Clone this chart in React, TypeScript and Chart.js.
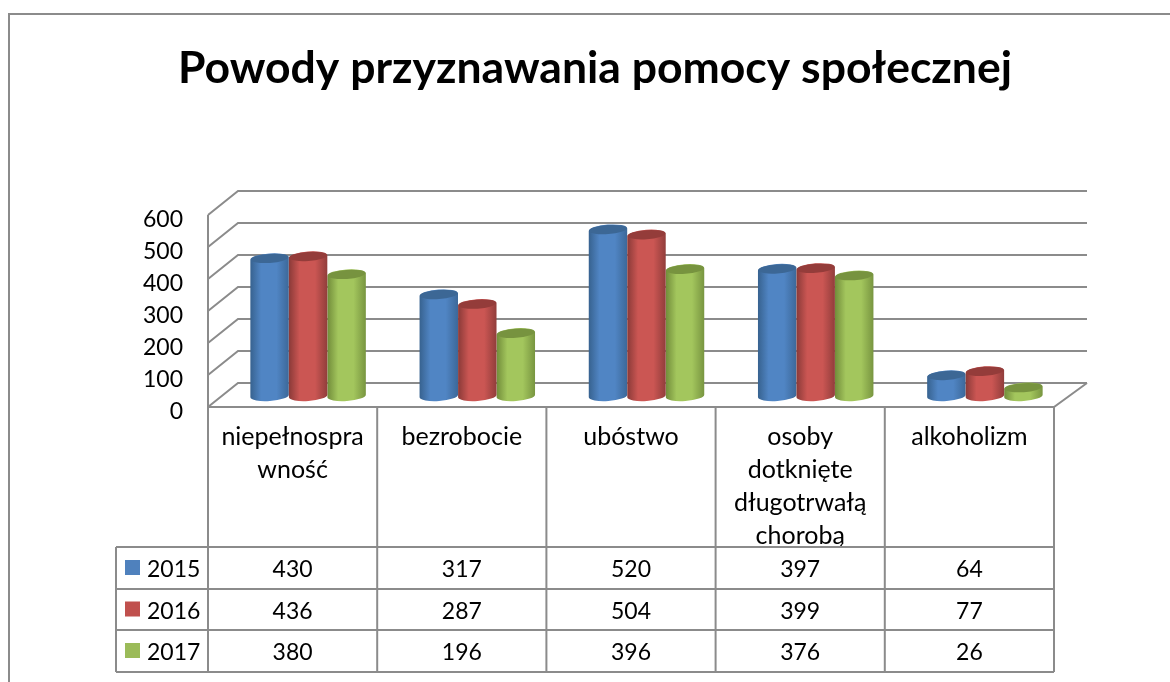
import React, { useEffect, useRef } from "react";
import { Chart, registerables } from "chart.js";

Chart.register(...registerables);

const TITLE = "Powody przyznawania pomocy społecznej";
const CATEGORIES = [
  ["niepełnospra", "wność"],
  ["bezrobocie"],
  ["ubóstwo"],
  ["osoby", "dotknięte", "długotrwałą", "chorobą"],
  ["alkoholizm"],
];
const SERIES_NAMES = ["2015", "2016", "2017"];
const VALUES_2015 = [430, 317, 520, 397, 64];
const VALUES_2016 = [436, 287, 504, 399, 77];
const VALUES_2017 = [380, 196, 396, 376, 26];

const FONT = "Lato, Carlito, Calibri, sans-serif";
const TEXT = "#000000";
const LINE = "#8b8b8b";
const COLORS = ["#4f81bd", "#c0504d", "#9bbb59"];
const SHADES = [
  { edgeL: "#37628f", mid: "#5085c4", edgeR: "#3c6899", top: "#3c6795" },
  { edgeL: "#8a3a38", mid: "#cb5653", edgeR: "#913d3b", top: "#943c3a" },
  { edgeL: "#718c3a", mid: "#a3c65d", edgeR: "#789540", top: "#77933f" },
];
const DRAW_ORDER = [0, 2, 1];

const DEPTH_X = 30;
const DEPTH_X_RIGHT = 33;
const DEPTH_Y = -24;
const BAR_DX = 15.5;
const BAR_DY = -11;
const TILT = -0.07;
const ROW_LINES = [547, 589, 630, 672];
const TABLE_LEFT = 116;

function line(ctx: CanvasRenderingContext2D, pts: number[][]) {
  ctx.beginPath();
  pts.forEach(([x, y], i) => (i ? ctx.lineTo(x, y) : ctx.moveTo(x, y)));
  ctx.stroke();
}

function cylinder(ctx: CanvasRenderingContext2D, bar: any, s: (typeof SHADES)[number]) {
  const rx = bar.width / 2;
  const cx = bar.x + BAR_DX;
  const yTop = bar.y + BAR_DY;
  const yBase = bar.base + BAR_DY;
  const ry = 5;
  const g = ctx.createLinearGradient(cx - rx, 0, cx + rx, 0);
  g.addColorStop(0, s.edgeL);
  g.addColorStop(0.28, s.mid);
  g.addColorStop(0.68, s.mid);
  g.addColorStop(1, s.edgeR);
  ctx.fillStyle = g;
  ctx.beginPath();
  ctx.ellipse(cx, yBase, rx, ry, TILT, 0, Math.PI);
  ctx.ellipse(cx, yTop, rx, ry, TILT, Math.PI, Math.PI * 2);
  ctx.closePath();
  ctx.fill();
  ctx.fillStyle = s.top;
  ctx.beginPath();
  ctx.ellipse(cx, yTop, rx - 0.5, ry - 0.5, TILT, 0, Math.PI * 2);
  ctx.fill();
}

const frame3d = {
  id: "frame3d",
  beforeDraw(chart: any) {
    const { ctx, chartArea: a, scales } = chart;
    ctx.save();
    ctx.strokeStyle = LINE;
    ctx.lineWidth = 2;
    line(ctx, [[9, 682], [9, 14], [1170, 14]]);
    scales.y.ticks.forEach((t: any) => {
      const y = scales.y.getPixelForValue(t.value);
      line(ctx, [[a.left, y], [a.left + DEPTH_X, y + DEPTH_Y], [a.right + DEPTH_X_RIGHT, y + DEPTH_Y]]);
    });
    line(ctx, [[a.left, a.top], [a.left, a.bottom], [a.right, a.bottom], [a.right + DEPTH_X_RIGHT, a.bottom + DEPTH_Y]]);
    ctx.restore();
  },
  beforeDatasetDraw() {
    return false;
  },
  afterDatasetsDraw(chart: any) {
    const { ctx } = chart;
    ctx.save();
    DRAW_ORDER.forEach((d) => {
      chart.getDatasetMeta(d).data.forEach((bar: any) => cylinder(ctx, bar, SHADES[d]));
    });
    ctx.restore();
  },
  afterDraw(chart: any) {
    const { ctx, chartArea: a, scales, data } = chart;
    const x = scales.x;
    const slot = x.getPixelForValue(1) - x.getPixelForValue(0);
    ctx.save();
    ctx.strokeStyle = LINE;
    ctx.lineWidth = 2;
    const bottom = ROW_LINES[ROW_LINES.length - 1];
    for (let i = 0; i <= CATEGORIES.length; i++) {
      const px = a.left + slot * i;
      line(ctx, [[px, a.bottom], [px, bottom]]);
    }
    line(ctx, [[TABLE_LEFT, ROW_LINES[0]], [TABLE_LEFT, bottom]]);
    ROW_LINES.forEach((y) => line(ctx, [[TABLE_LEFT, y], [a.right, y]]));
    ctx.font = `23px ${FONT}`;
    ctx.fillStyle = TEXT;
    ctx.textBaseline = "middle";
    data.datasets.forEach((ds: any, r: number) => {
      const mid = (ROW_LINES[r] + ROW_LINES[r + 1]) / 2;
      const cy = mid + 2;
      ctx.fillStyle = ds.backgroundColor;
      ctx.fillRect(125, mid - 8, 15, 15);
      ctx.fillStyle = TEXT;
      ctx.textAlign = "left";
      ctx.fillText(ds.label, 147, cy);
      ctx.textAlign = "center";
      ds.data.forEach((v: number, i: number) => ctx.fillText(String(v), x.getPixelForValue(i), cy));
    });
    ctx.restore();
  },
};

export default function App() {
  const ref = useRef<HTMLCanvasElement>(null);
  useEffect(() => {
    const chart = new Chart(ref.current as HTMLCanvasElement, {
      type: "bar",
      data: {
        labels: CATEGORIES as any,
        datasets: [
          { label: SERIES_NAMES[0], data: VALUES_2015, backgroundColor: COLORS[0] },
          { label: SERIES_NAMES[1], data: VALUES_2016, backgroundColor: COLORS[1] },
          { label: SERIES_NAMES[2], data: VALUES_2017, backgroundColor: COLORS[2] },
        ],
      },
      options: {
        animation: false,
        responsive: false,
        layout: { padding: { left: 136, right: 116, top: 0, bottom: 10 } },
        datasets: { bar: { categoryPercentage: 0.683, barPercentage: 1 } },
        plugins: {
          legend: { display: false },
          tooltip: { enabled: false },
          title: {
            display: true,
            text: TITLE,
            color: TEXT,
            font: { family: FONT, size: 44.5, weight: "bold", lineHeight: "50px" },
            padding: { top: 44, bottom: 121 },
          },
        },
        scales: {
          x: {
            grid: { display: false },
            border: { display: false },
            afterFit: (s: any) => {
              s.height = 265;
            },
            ticks: {
              color: TEXT,
              padding: 5,
              maxRotation: 0,
              autoSkip: false,
              font: { family: FONT, size: 25, lineHeight: "33px" },
            },
          },
          y: {
            min: 0,
            max: 600,
            grid: { display: false },
            border: { display: false },
            afterFit: (s: any) => {
              s.width = 72;
            },
            ticks: {
              stepSize: 100,
              color: TEXT,
              padding: 17,
              labelOffset: 5,
              font: { family: FONT, size: 23 },
            },
          },
        },
      } as any,
      plugins: [frame3d],
    });
    return () => chart.destroy();
  }, []);
  return (
    <canvas
      ref={ref}
      width={1170}
      height={682}
      style={{ position: "absolute", left: 0, top: 0, display: "block", background: "#fff" }}
    />
  );
}
